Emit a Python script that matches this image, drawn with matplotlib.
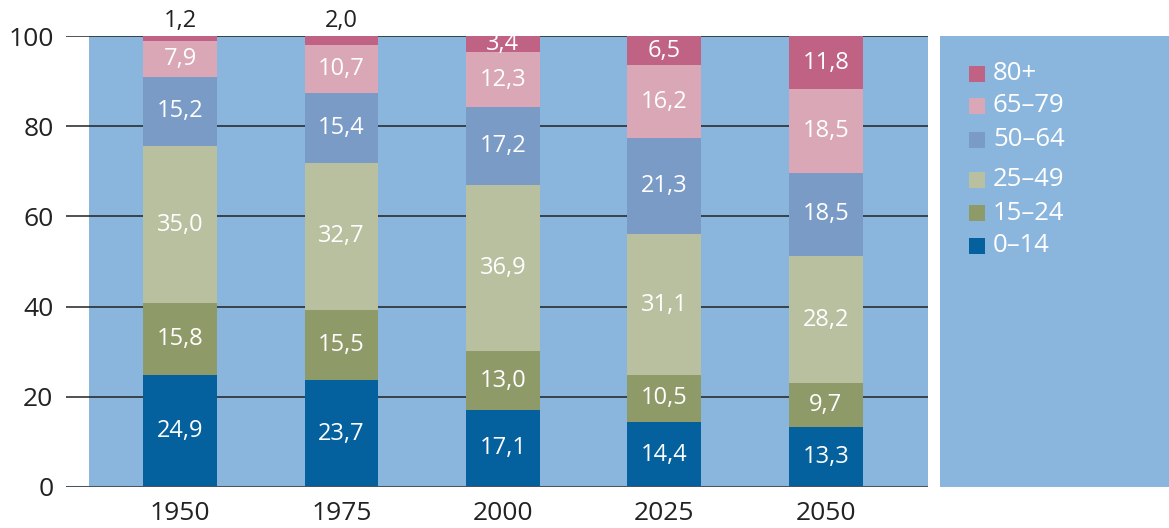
import numpy as np
import matplotlib.pyplot as plt
from matplotlib.patches import Rectangle

years = ['1950', '1975', '2000', '2025', '2050']
groups = ['0–14', '15–24', '25–49', '50–64', '65–79', '80+']
colors = ['#05609e', '#8f9a69', '#b8c0a0', '#7a9bc6', '#d9a7b5', '#c06283']

age_0_14 = [24.9, 23.7, 17.1, 14.4, 13.3]
age_15_24 = [15.8, 15.5, 13.0, 10.5, 9.7]
age_25_49 = [35.0, 32.7, 36.9, 31.1, 28.2]
age_50_64 = [15.2, 15.4, 17.2, 21.3, 18.5]
age_65_79 = [7.9, 10.7, 12.3, 16.2, 18.5]
age_80 = [1.2, 2.0, 3.4, 6.5, 11.8]

series = [age_0_14, age_15_24, age_25_49, age_50_64, age_65_79, age_80]

plt.rcParams['font.family'] = ['Open Sans', 'DejaVu Sans']
bg = '#8ab6de'

fig = plt.figure(figsize=(11.69, 5.28), dpi=100)
W, H = 1169, 528
ax = fig.add_axes([66 / W, 41 / H, (928 - 66) / W, (487 - 36) / H])
ax.set_facecolor('none')

x = np.arange(len(years))
ax.set_xlim(-0.706, 4.632)
ax.set_ylim(0, 100)
ax.axvspan(-0.563, 4.632, color=bg, zorder=0, lw=0)

for yv in [20, 40, 60, 80, 100]:
    ax.axhline(yv, color='#222222', lw=1.1, zorder=1)
ax.axhline(0, color='#4a5560', lw=2.2, zorder=4)

bottom = np.zeros(len(years))
for vals, col in zip(series, colors):
    vals = np.array(vals)
    ax.bar(x, vals, bottom=bottom, width=0.458, color=col, zorder=2, lw=0)
    for xi, b, v in zip(x, bottom, vals):
        lab = f'{v:.1f}'.replace('.', ',')
        if v < 3:
            ax.text(xi, 100.6, lab, ha='center', va='bottom',
                    fontsize=17, color='#222222', clip_on=False)
        else:
            ax.text(xi, b + v / 2, lab, ha='center', va='center',
                    fontsize=17, color='white', zorder=3)
    bottom += vals

ax.set_xticks(x)
ax.set_xticklabels(years, fontsize=19, color='#222222')
ax.set_yticks([0, 20, 40, 60, 80, 100])
ax.set_yticklabels(['0', '20', '40', '60', '80', '100'], fontsize=19, color='#222222')
ax.tick_params(length=0)
ax.tick_params(axis='x', pad=10)
ax.tick_params(axis='y', pad=9)
for s in ax.spines.values():
    s.set_visible(False)

# legend panel
lax = fig.add_axes([940 / W, 41 / H, (W - 940) / W, (487 - 36) / H])
lax.set_facecolor(bg)
lax.set_xlim(940, W)
lax.set_ylim(487, 36)
lax.set_xticks([])
lax.set_yticks([])
for s in lax.spines.values():
    s.set_visible(False)
rows_y = [246, 213, 180, 140, 106, 74]
for g, col, yy in zip(groups, colors, rows_y):
    lax.add_patch(Rectangle((969, yy - 8), 16, 16, color=col, lw=0))
    lax.text(993, yy, g, color='white', fontsize=18.5, va='center', ha='left')

fig.savefig('out.png', dpi=100)
